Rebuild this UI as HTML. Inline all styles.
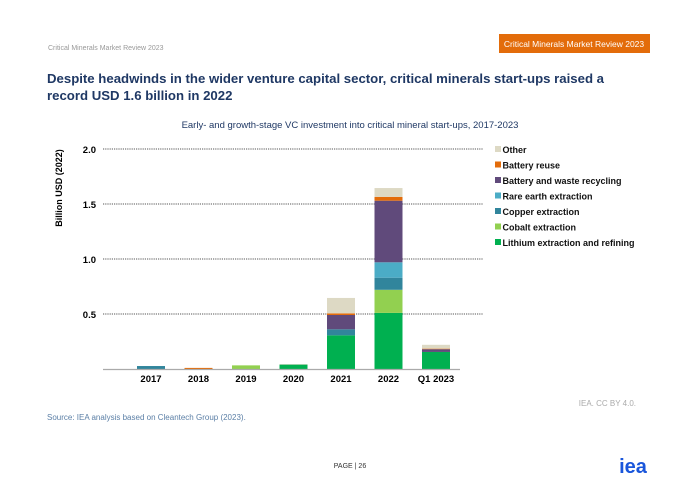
<!DOCTYPE html>
<html><head><meta charset="utf-8"><style>
body{margin:0;background:#fff;width:700px;height:495px;overflow:hidden;font-family:"Liberation Sans",sans-serif}
</style></head><body>
<svg width="700" height="495" xmlns="http://www.w3.org/2000/svg" font-family="Liberation Sans, sans-serif">
<text x="48" y="50" font-size="7" fill="#999">Critical Minerals Market Review 2023</text>
<rect x="499" y="34" width="151" height="19" fill="#e36c0a"/>
<text x="574" y="47" font-size="8.5" fill="#fff" text-anchor="middle">Critical Minerals Market Review 2023</text>
<text font-size="13.2" font-weight="bold" fill="#1f3864"><tspan x="47" y="83">Despite headwinds in the wider venture capital sector, critical minerals start-ups raised a</tspan><tspan x="47" y="100">record USD 1.6 billion in 2022</tspan></text>
<text x="350" y="128" font-size="9.5" fill="#1f3864" text-anchor="middle">Early- and growth-stage VC investment into critical mineral start-ups, 2017-2023</text>
<text transform="translate(62,188) rotate(-90)" font-size="9" font-weight="bold" fill="#000" text-anchor="middle">Billion USD (2022)</text>
<g id="chart"></g>
<text x="636" y="406" font-size="8" fill="#aaa" text-anchor="end">IEA. CC BY 4.0.</text>
<text x="47" y="420" font-size="8" fill="#5b7fa6">Source: IEA analysis based on Cleantech Group (2023).</text>
<text x="350" y="468" font-size="7" fill="#333" text-anchor="middle">PAGE | 26</text>
<text x="633" y="473" font-size="20" font-weight="bold" fill="#1a56db" text-anchor="middle">iea</text>
</svg>
<script>
const categories=["2017","2018","2019","2020","2021","2022","Q1 2023"];
const seriesNames=["Lithium extraction and refining","Cobalt extraction","Copper extraction","Rare earth extraction","Battery and waste recycling","Battery reuse","Other"];
const lithium=[0,0,0,0.04,0.306,0.51,0.155];
const cobalt=[0,0,0.033,0,0,0.21,0];
const copper=[0.027,0,0,0,0.055,0.11,0];
const rareEarth=[0,0,0,0,0,0.14,0];
const recycling=[0,0,0,0,0.13,0.56,0.025];
const reuse=[0,0.01,0,0,0.015,0.035,0.005];
const other=[0,0,0,0.005,0.14,0.08,0.035];
const yTicks=[0.5,1.0,1.5,2.0];
const colors=["#00b050","#92d050","#31859c","#4bacc6","#604a7b","#e36c0a","#ddd9c4"];
const series=[lithium,cobalt,copper,rareEarth,recycling,reuse,other];
const NS="http://www.w3.org/2000/svg";
const g=document.getElementById("chart");
const y0=369, pxPer=110, x0=151, step=47.5, bw=28;
const y=v=>y0-v*pxPer, x=i=>x0+i*step;
function mk(t,a){const e=document.createElementNS(NS,t);for(const k in a)e.setAttribute(k,a[k]);g.appendChild(e);return e;}
yTicks.forEach(t=>{
  const l=mk("line",{x1:103,x2:483,y1:y(t),y2:y(t),stroke:"#555","stroke-width":1,"stroke-dasharray":"1.2,1"});
  
  
  const tx=mk("text",{x:96,y:y(t)+4,"font-size":9.5,"font-weight":"bold","text-anchor":"end"});
  tx.textContent=t.toFixed(1);
  
  
});
categories.forEach((c,i)=>{
  let acc=0;
  series.forEach((s,j)=>{
    const v=s[i]; if(v<=0)return;
    const r=mk("rect",{x:x(i)-bw/2,y:y(acc+v),width:bw,height:v*pxPer,fill:colors[j]});
    
    
    acc+=v;
  });
  const tx=mk("text",{x:x(i),y:y0+13,"font-size":9.5,"font-weight":"bold","text-anchor":"middle"});
  tx.textContent=c;
  
  
});
const ax=mk("line",{x1:103,x2:460,y1:y0+0.5,y2:y0+0.5,stroke:"#aaa","stroke-width":1.2});


for(let k=6;k>=0;k--){
  const ly=150+(6-k)*15.5;
  const r=mk("rect",{x:495,y:ly-4,width:6,height:6,fill:colors[k]});
  
  
  const tx=mk("text",{x:502.5,y:ly+3,"font-size":9,"font-weight":"bold","fill":"#111"});
  tx.textContent=["Other","Battery reuse","Battery and waste recycling","Rare earth extraction","Copper extraction","Cobalt extraction","Lithium extraction and refining"][6-k];
  
  
}
</script>
</body></html>
